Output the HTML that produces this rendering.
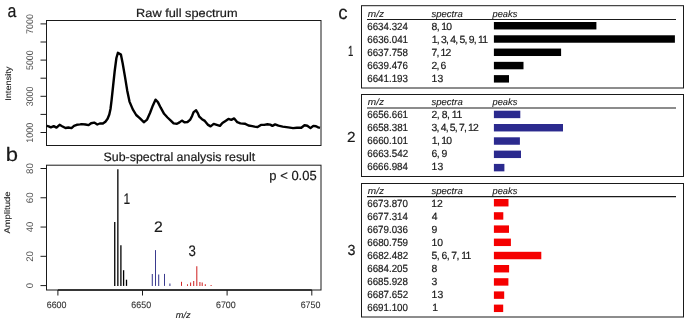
<!DOCTYPE html>
<html><head><meta charset="utf-8"><style>
html,body{margin:0;padding:0;background:#fff;}
body{width:685px;height:321px;overflow:hidden;}
svg{display:block;will-change:transform;font-family:"Liberation Sans", sans-serif;text-rendering:geometricPrecision;}
</style></head><body>
<svg width="685" height="321" viewBox="0 0 685 321">

<text id="t0" x="7.56" y="17.00" font-size="18.4" textLength="8.86" lengthAdjust="spacingAndGlyphs" fill="#1a1a1a" stroke="#1a1a1a" stroke-width="0.2" stroke-linejoin="round" >a</text>
<text id="t1" x="5.77" y="160.60" font-size="19.4" textLength="12.24" lengthAdjust="spacingAndGlyphs" fill="#1a1a1a" stroke="#1a1a1a" stroke-width="0.2" stroke-linejoin="round" >b</text>
<text id="t2" x="338.26" y="18.60" font-size="19.2" textLength="9.31" lengthAdjust="spacingAndGlyphs" fill="#1a1a1a" stroke="#1a1a1a" stroke-width="0.2" stroke-linejoin="round" >c</text>
<text id="t3" x="136.08" y="16.90" font-size="11.7" textLength="101.51" lengthAdjust="spacingAndGlyphs" fill="#1a1a1a" stroke="#1a1a1a" stroke-width="0.2" stroke-linejoin="round" >Raw full spectrum</text>
<rect x="46.5" y="20.5" width="274.5" height="125" fill="none" stroke="#1a1a1a" stroke-width="1"/>
<line x1="40.5" y1="23.9" x2="46.5" y2="23.9" stroke="#1a1a1a" stroke-width="1" />
<line x1="40.5" y1="42.0" x2="46.5" y2="42.0" stroke="#1a1a1a" stroke-width="1" />
<line x1="40.5" y1="60.1" x2="46.5" y2="60.1" stroke="#1a1a1a" stroke-width="1" />
<line x1="40.5" y1="78.2" x2="46.5" y2="78.2" stroke="#1a1a1a" stroke-width="1" />
<line x1="40.5" y1="96.3" x2="46.5" y2="96.3" stroke="#1a1a1a" stroke-width="1" />
<line x1="40.5" y1="114.4" x2="46.5" y2="114.4" stroke="#1a1a1a" stroke-width="1" />
<line x1="40.5" y1="132.5" x2="46.5" y2="132.5" stroke="#1a1a1a" stroke-width="1" />
<line x1="46.5" y1="23.9" x2="46.5" y2="132.5" stroke="#1a1a1a" stroke-width="1" />
<text id="t4" transform="translate(33.10,33.50) rotate(-90)" x="-0.45" y="0" font-size="9.6" textLength="19.86" lengthAdjust="spacingAndGlyphs" fill="#555" stroke="#555" stroke-width="0" stroke-linejoin="round" >7000</text>
<text id="t5" transform="translate(33.10,69.70) rotate(-90)" x="-0.36" y="0" font-size="9.6" textLength="19.76" lengthAdjust="spacingAndGlyphs" fill="#555" stroke="#555" stroke-width="0" stroke-linejoin="round" >5000</text>
<text id="t6" transform="translate(33.10,105.90) rotate(-90)" x="-0.36" y="0" font-size="9.6" textLength="19.76" lengthAdjust="spacingAndGlyphs" fill="#555" stroke="#555" stroke-width="0" stroke-linejoin="round" >3000</text>
<text id="t7" transform="translate(33.10,142.10) rotate(-90)" x="-0.68" y="0" font-size="9.6" textLength="20.09" lengthAdjust="spacingAndGlyphs" fill="#555" stroke="#555" stroke-width="0" stroke-linejoin="round" >1000</text>
<text id="t8" transform="translate(10.50,100.00) rotate(-90)" x="-0.83" y="0" font-size="8.2" textLength="34.22" lengthAdjust="spacingAndGlyphs" fill="#222" stroke="#222" stroke-width="0.12" stroke-linejoin="round" >Intensity</text>
<polyline points="46.9,125.9 48.7,126.3 50.9,127.3 53.7,126.1 56.5,127.6 59.6,124.8 62.1,126.2 65.5,128 68.4,127.5 71.5,128.1 74,125.9 76.8,124.8 80,124.4 81.7,124.1 85.5,124.5 88.6,125.1 91.1,123.2 94.2,122.6 97.3,124.5 99.8,123.5 102.9,123.5 105.4,121.7 107.6,118.8 109.3,114.5 110.5,109 111.6,100 113.1,86 114.7,71 116.4,58 117.9,52.8 120.9,54.6 122.7,63.5 125,76.9 127.2,90.4 129.5,101.6 132.8,109.4 136.2,115 140,118.4 143.8,122.2 147.1,119.6 150.1,112.7 152.9,105.4 155.5,99.7 157.9,102.1 160.7,107.7 164.1,113.8 167.5,117.5 170.8,120.6 173.6,123.4 177,123.7 179.5,122.4 181.9,120.6 184.7,122.4 187.5,122 190.3,119.6 192.1,115.9 193.6,112.1 196.1,110.3 197.8,113.1 199.3,116.7 202,119.2 204.8,120.9 208.1,124.9 210.6,126.4 213.7,123.9 216.8,124.9 219.9,125.9 222.4,123 225.5,120.9 228.4,118.9 231.3,119.9 234.2,118.4 237.3,122.2 240.4,123.4 244.8,123.7 248.5,125.5 252.3,126.1 254.4,126.6 257.6,127 260.9,124.9 264.2,124.9 267.5,124.3 270.2,124.6 272.4,125.9 275.1,124.4 278.4,125.7 282.7,126.6 288.2,127.4 293.1,128.1 296.9,127.7 301.3,127.7 304.5,125.2 307.3,125.7 310.5,128.1 313.3,125.9 316,126.3 318.2,127.4 320,127.9" fill="none" stroke="#000" stroke-width="2.4" stroke-linejoin="round" stroke-linecap="butt"/>
<text id="t9" x="103.54" y="161.10" font-size="12.2" textLength="151.66" lengthAdjust="spacingAndGlyphs" fill="#1a1a1a" stroke="#1a1a1a" stroke-width="0.2" stroke-linejoin="round" >Sub-spectral analysis result</text>
<rect x="46.5" y="165.2" width="274.5" height="124.8" fill="none" stroke="#1a1a1a" stroke-width="1"/>
<line x1="40.5" y1="285.6" x2="46.5" y2="285.6" stroke="#1a1a1a" stroke-width="1" />
<text id="t10" transform="translate(33.00,287.90) rotate(-90)" x="-0.38" y="0" font-size="9.6" textLength="5.33" lengthAdjust="spacingAndGlyphs" fill="#555" stroke="#555" stroke-width="0" stroke-linejoin="round" >0</text>
<line x1="40.5" y1="256.32500000000005" x2="46.5" y2="256.32500000000005" stroke="#1a1a1a" stroke-width="1" />
<text id="t11" transform="translate(33.00,261.33) rotate(-90)" x="-0.49" y="0" font-size="9.6" textLength="10.85" lengthAdjust="spacingAndGlyphs" fill="#555" stroke="#555" stroke-width="0" stroke-linejoin="round" >20</text>
<line x1="40.5" y1="227.05" x2="46.5" y2="227.05" stroke="#1a1a1a" stroke-width="1" />
<text id="t12" transform="translate(33.00,232.05) rotate(-90)" x="-0.19" y="0" font-size="9.6" textLength="10.54" lengthAdjust="spacingAndGlyphs" fill="#555" stroke="#555" stroke-width="0" stroke-linejoin="round" >40</text>
<line x1="40.5" y1="197.775" x2="46.5" y2="197.775" stroke="#1a1a1a" stroke-width="1" />
<text id="t13" transform="translate(33.00,202.78) rotate(-90)" x="-0.49" y="0" font-size="9.6" textLength="10.85" lengthAdjust="spacingAndGlyphs" fill="#555" stroke="#555" stroke-width="0" stroke-linejoin="round" >60</text>
<line x1="40.5" y1="168.5" x2="46.5" y2="168.5" stroke="#1a1a1a" stroke-width="1" />
<text id="t14" transform="translate(33.00,173.50) rotate(-90)" x="-0.44" y="0" font-size="9.6" textLength="10.80" lengthAdjust="spacingAndGlyphs" fill="#555" stroke="#555" stroke-width="0" stroke-linejoin="round" >80</text>
<line x1="46.5" y1="168.5" x2="46.5" y2="285.6" stroke="#1a1a1a" stroke-width="1" />
<text id="t15" transform="translate(10.00,233.60) rotate(-90)" x="-0.00" y="0" font-size="8.2" textLength="42.14" lengthAdjust="spacingAndGlyphs" fill="#222" stroke="#222" stroke-width="0.12" stroke-linejoin="round" >Amplitude</text>
<line x1="57.9" y1="290" x2="57.9" y2="295.5" stroke="#1a1a1a" stroke-width="1" />
<text id="t16" x="46.76" y="307.80" font-size="9.4" textLength="19.75" lengthAdjust="spacingAndGlyphs" fill="#333" stroke="#333" stroke-width="0.12" stroke-linejoin="round" >6600</text>
<line x1="142.5" y1="290" x2="142.5" y2="295.5" stroke="#1a1a1a" stroke-width="1" />
<text id="t17" x="131.36" y="307.80" font-size="9.4" textLength="19.75" lengthAdjust="spacingAndGlyphs" fill="#333" stroke="#333" stroke-width="0.12" stroke-linejoin="round" >6650</text>
<line x1="227.1" y1="290" x2="227.1" y2="295.5" stroke="#1a1a1a" stroke-width="1" />
<text id="t18" x="215.96" y="307.80" font-size="9.4" textLength="19.75" lengthAdjust="spacingAndGlyphs" fill="#333" stroke="#333" stroke-width="0.12" stroke-linejoin="round" >6700</text>
<line x1="311.8" y1="290" x2="311.8" y2="295.5" stroke="#1a1a1a" stroke-width="1" />
<text id="t19" x="300.66" y="307.80" font-size="9.4" textLength="19.75" lengthAdjust="spacingAndGlyphs" fill="#333" stroke="#333" stroke-width="0.12" stroke-linejoin="round" >6750</text>
<line x1="57.9" y1="290" x2="311.8" y2="290" stroke="#1a1a1a" stroke-width="1.4" />
<text id="t20" x="175.66" y="318.00" font-size="9.0" font-style="italic" textLength="14.99" lengthAdjust="spacingAndGlyphs" fill="#222" stroke="#222" stroke-width="0.12" stroke-linejoin="round" >m/z</text>
<text id="t21" x="269.36" y="179.50" font-size="13.2" textLength="47.29" lengthAdjust="spacingAndGlyphs" fill="#1a1a1a" stroke="#1a1a1a" stroke-width="0.2" stroke-linejoin="round" >p &lt; 0.05</text>
<line x1="114.75" y1="221.9" x2="114.75" y2="285.9" stroke="#000" stroke-width="1.3" />
<line x1="117.85" y1="169.3" x2="117.85" y2="285.9" stroke="#000" stroke-width="1.3" />
<line x1="120.9" y1="245.2" x2="120.9" y2="285.9" stroke="#000" stroke-width="1.3" />
<line x1="123.6" y1="270.2" x2="123.6" y2="285.9" stroke="#000" stroke-width="1.3" />
<line x1="126.5" y1="279.7" x2="126.5" y2="285.9" stroke="#000" stroke-width="1.3" />
<line x1="152.3" y1="273.9" x2="152.3" y2="285.9" stroke="#3a3a8e" stroke-width="1.05" />
<line x1="155.5" y1="250.1" x2="155.5" y2="285.9" stroke="#3a3a8e" stroke-width="1.05" />
<line x1="158.7" y1="274.6" x2="158.7" y2="285.9" stroke="#3a3a8e" stroke-width="1.05" />
<line x1="164.5" y1="273.9" x2="164.5" y2="285.9" stroke="#3a3a8e" stroke-width="1.05" />
<line x1="169.9" y1="283.6" x2="169.9" y2="285.9" stroke="#3a3a8e" stroke-width="1.05" />
<line x1="181.5" y1="281.8" x2="181.5" y2="285.9" stroke="#d02828" stroke-width="1.05" />
<line x1="187.5" y1="284.3" x2="187.5" y2="285.9" stroke="#d02828" stroke-width="1.05" />
<line x1="190.6" y1="282.6" x2="190.6" y2="285.9" stroke="#d02828" stroke-width="1.05" />
<line x1="193.7" y1="280.9" x2="193.7" y2="285.9" stroke="#d02828" stroke-width="1.05" />
<line x1="196.8" y1="266.2" x2="196.8" y2="285.9" stroke="#d02828" stroke-width="1.05" />
<line x1="199.9" y1="282.1" x2="199.9" y2="285.9" stroke="#d02828" stroke-width="1.05" />
<line x1="202.2" y1="282.6" x2="202.2" y2="285.9" stroke="#d02828" stroke-width="1.05" />
<line x1="205.3" y1="284.3" x2="205.3" y2="285.9" stroke="#d02828" stroke-width="1.05" />
<line x1="211.1" y1="284.9" x2="211.1" y2="285.9" stroke="#d02828" stroke-width="1.05" />
<text id="t22" x="123.40" y="203.70" font-size="15.2" textLength="6.65" lengthAdjust="spacingAndGlyphs" fill="#1a1a1a" stroke="#1a1a1a" stroke-width="0.2" stroke-linejoin="round" >1</text>
<text id="t23" x="154.01" y="232.00" font-size="15.2" textLength="8.80" lengthAdjust="spacingAndGlyphs" fill="#1a1a1a" stroke="#1a1a1a" stroke-width="0.2" stroke-linejoin="round" >2</text>
<text id="t24" x="188.57" y="255.60" font-size="15.2" textLength="7.38" lengthAdjust="spacingAndGlyphs" fill="#1a1a1a" stroke="#1a1a1a" stroke-width="0.2" stroke-linejoin="round" >3</text>
<rect x="361.5" y="5.7" width="322" height="82.30" fill="none" stroke="#1a1a1a" stroke-width="1"/>
<text id="t25" x="367.85" y="16.80" font-size="9.4" font-style="italic" textLength="16.21" lengthAdjust="spacingAndGlyphs" fill="#222" stroke="#222" stroke-width="0.12" stroke-linejoin="round" >m/z</text>
<text id="t26" x="431.45" y="16.80" font-size="9.4" font-style="italic" textLength="31.28" lengthAdjust="spacingAndGlyphs" fill="#222" stroke="#222" stroke-width="0.12" stroke-linejoin="round" >spectra</text>
<text id="t27" x="492.53" y="16.80" font-size="9.4" font-style="italic" textLength="24.84" lengthAdjust="spacingAndGlyphs" fill="#222" stroke="#222" stroke-width="0.12" stroke-linejoin="round" >peaks</text>
<line x1="367" y1="19.5" x2="676" y2="19.5" stroke="#1a1a1a" stroke-width="1.1" />
<text id="t28" x="347.98" y="55.70" font-size="14.6" textLength="5.37" lengthAdjust="spacingAndGlyphs" fill="#1a1a1a" stroke="#1a1a1a" stroke-width="0.2" stroke-linejoin="round" >1</text>
<text id="t29" x="367.26" y="29.70" font-size="10.4" textLength="40.64" lengthAdjust="spacingAndGlyphs" fill="#1a1a1a" stroke="#1a1a1a" stroke-width="0.2" stroke-linejoin="round" >6634.324</text>
<text id="t30" x="431.53" y="29.70" font-size="10.4" textLength="20.62" lengthAdjust="spacing" fill="#1a1a1a" stroke="#1a1a1a" stroke-width="0.2" stroke-linejoin="round" >8, 10</text>
<rect x="493.90" y="22.00" width="102.50" height="7.45" fill="#000"/>
<text id="t31" x="367.26" y="42.70" font-size="10.4" textLength="40.79" lengthAdjust="spacingAndGlyphs" fill="#1a1a1a" stroke="#1a1a1a" stroke-width="0.2" stroke-linejoin="round" >6636.041</text>
<text id="t32" x="431.82" y="42.70" font-size="10.4" textLength="56.14" lengthAdjust="spacing" fill="#1a1a1a" stroke="#1a1a1a" stroke-width="0.2" stroke-linejoin="round" >1, 3, 4, 5, 9, 11</text>
<rect x="493.90" y="35.28" width="181.00" height="7.45" fill="#000"/>
<text id="t33" x="367.26" y="55.70" font-size="10.4" textLength="40.74" lengthAdjust="spacingAndGlyphs" fill="#1a1a1a" stroke="#1a1a1a" stroke-width="0.2" stroke-linejoin="round" >6637.758</text>
<text id="t34" x="431.48" y="55.70" font-size="10.4" textLength="19.76" lengthAdjust="spacing" fill="#1a1a1a" stroke="#1a1a1a" stroke-width="0.2" stroke-linejoin="round" >7, 12</text>
<rect x="493.90" y="48.56" width="67.20" height="7.45" fill="#000"/>
<text id="t35" x="367.26" y="68.70" font-size="10.4" textLength="40.74" lengthAdjust="spacingAndGlyphs" fill="#1a1a1a" stroke="#1a1a1a" stroke-width="0.2" stroke-linejoin="round" >6639.476</text>
<text id="t36" x="431.48" y="68.70" font-size="10.4" textLength="14.71" lengthAdjust="spacing" fill="#1a1a1a" stroke="#1a1a1a" stroke-width="0.2" stroke-linejoin="round" >2, 6</text>
<rect x="493.90" y="61.84" width="29.60" height="7.45" fill="#000"/>
<text id="t37" x="367.26" y="81.70" font-size="10.4" textLength="40.74" lengthAdjust="spacingAndGlyphs" fill="#1a1a1a" stroke="#1a1a1a" stroke-width="0.2" stroke-linejoin="round" >6641.193</text>
<text id="t38" x="431.62" y="81.70" font-size="10.4" fill="#1a1a1a" stroke="#1a1a1a" stroke-width="0.2" stroke-linejoin="round" >13</text>
<rect x="493.90" y="75.12" width="15.10" height="7.45" fill="#000"/>
<rect x="361.5" y="94.5" width="322" height="82.00" fill="none" stroke="#1a1a1a" stroke-width="1"/>
<text id="t39" x="367.85" y="104.75" font-size="9.4" font-style="italic" textLength="16.21" lengthAdjust="spacingAndGlyphs" fill="#222" stroke="#222" stroke-width="0.12" stroke-linejoin="round" >m/z</text>
<text id="t40" x="431.45" y="104.75" font-size="9.4" font-style="italic" textLength="31.28" lengthAdjust="spacingAndGlyphs" fill="#222" stroke="#222" stroke-width="0.12" stroke-linejoin="round" >spectra</text>
<text id="t41" x="492.53" y="104.75" font-size="9.4" font-style="italic" textLength="24.84" lengthAdjust="spacingAndGlyphs" fill="#222" stroke="#222" stroke-width="0.12" stroke-linejoin="round" >peaks</text>
<line x1="367" y1="108.0" x2="676" y2="108.0" stroke="#1a1a1a" stroke-width="1.1" />
<text id="t42" x="347.03" y="142.40" font-size="14.6" textLength="8.56" lengthAdjust="spacingAndGlyphs" fill="#1a1a1a" stroke="#1a1a1a" stroke-width="0.2" stroke-linejoin="round" >2</text>
<text id="t43" x="367.26" y="118.45" font-size="10.4" textLength="40.79" lengthAdjust="spacingAndGlyphs" fill="#1a1a1a" stroke="#1a1a1a" stroke-width="0.2" stroke-linejoin="round" >6656.661</text>
<text id="t44" x="431.48" y="118.45" font-size="10.4" textLength="30.70" lengthAdjust="spacing" fill="#1a1a1a" stroke="#1a1a1a" stroke-width="0.2" stroke-linejoin="round" >2, 8, 11</text>
<rect x="493.90" y="110.70" width="26.40" height="7.45" fill="#2b2a8e"/>
<text id="t45" x="367.26" y="131.45" font-size="10.4" textLength="40.79" lengthAdjust="spacingAndGlyphs" fill="#1a1a1a" stroke="#1a1a1a" stroke-width="0.2" stroke-linejoin="round" >6658.381</text>
<text id="t46" x="431.58" y="131.45" font-size="10.4" textLength="47.28" lengthAdjust="spacing" fill="#1a1a1a" stroke="#1a1a1a" stroke-width="0.2" stroke-linejoin="round" >3, 4, 5, 7, 12</text>
<rect x="493.90" y="124.00" width="69.10" height="7.45" fill="#2b2a8e"/>
<text id="t47" x="367.26" y="144.45" font-size="10.4" textLength="40.79" lengthAdjust="spacingAndGlyphs" fill="#1a1a1a" stroke="#1a1a1a" stroke-width="0.2" stroke-linejoin="round" >6660.101</text>
<text id="t48" x="431.82" y="144.45" font-size="10.4" textLength="20.26" lengthAdjust="spacing" fill="#1a1a1a" stroke="#1a1a1a" stroke-width="0.2" stroke-linejoin="round" >1, 10</text>
<rect x="493.90" y="137.30" width="26.00" height="7.45" fill="#2b2a8e"/>
<text id="t49" x="367.26" y="157.45" font-size="10.4" textLength="40.84" lengthAdjust="spacingAndGlyphs" fill="#1a1a1a" stroke="#1a1a1a" stroke-width="0.2" stroke-linejoin="round" >6663.542</text>
<text id="t50" x="431.48" y="157.45" font-size="10.4" textLength="15.84" lengthAdjust="spacing" fill="#1a1a1a" stroke="#1a1a1a" stroke-width="0.2" stroke-linejoin="round" >6, 9</text>
<rect x="493.90" y="150.60" width="27.10" height="7.45" fill="#2b2a8e"/>
<text id="t51" x="367.26" y="170.45" font-size="10.4" textLength="40.64" lengthAdjust="spacingAndGlyphs" fill="#1a1a1a" stroke="#1a1a1a" stroke-width="0.2" stroke-linejoin="round" >6666.984</text>
<text id="t52" x="431.62" y="170.45" font-size="10.4" fill="#1a1a1a" stroke="#1a1a1a" stroke-width="0.2" stroke-linejoin="round" >13</text>
<rect x="493.90" y="163.90" width="10.50" height="7.45" fill="#2b2a8e"/>
<rect x="361.5" y="183.5" width="322" height="133.50" fill="none" stroke="#1a1a1a" stroke-width="1"/>
<text id="t53" x="367.85" y="193.60" font-size="9.4" font-style="italic" textLength="16.21" lengthAdjust="spacingAndGlyphs" fill="#222" stroke="#222" stroke-width="0.12" stroke-linejoin="round" >m/z</text>
<text id="t54" x="431.45" y="193.60" font-size="9.4" font-style="italic" textLength="31.28" lengthAdjust="spacingAndGlyphs" fill="#222" stroke="#222" stroke-width="0.12" stroke-linejoin="round" >spectra</text>
<text id="t55" x="492.53" y="193.60" font-size="9.4" font-style="italic" textLength="24.84" lengthAdjust="spacingAndGlyphs" fill="#222" stroke="#222" stroke-width="0.12" stroke-linejoin="round" >peaks</text>
<line x1="367" y1="196.6" x2="676" y2="196.6" stroke="#1a1a1a" stroke-width="1.1" />
<text id="t56" x="347.43" y="255.00" font-size="14.6" textLength="7.96" lengthAdjust="spacingAndGlyphs" fill="#1a1a1a" stroke="#1a1a1a" stroke-width="0.2" stroke-linejoin="round" >3</text>
<text id="t57" x="367.26" y="206.95" font-size="10.4" textLength="40.69" lengthAdjust="spacingAndGlyphs" fill="#1a1a1a" stroke="#1a1a1a" stroke-width="0.2" stroke-linejoin="round" >6673.870</text>
<text id="t58" x="431.32" y="206.95" font-size="10.4" fill="#1a1a1a" stroke="#1a1a1a" stroke-width="0.2" stroke-linejoin="round" >12</text>
<rect x="493.90" y="199.00" width="14.60" height="7.45" fill="#f50000"/>
<text id="t59" x="367.26" y="219.95" font-size="10.4" textLength="40.64" lengthAdjust="spacingAndGlyphs" fill="#1a1a1a" stroke="#1a1a1a" stroke-width="0.2" stroke-linejoin="round" >6677.314</text>
<text id="t60" x="431.79" y="219.95" font-size="10.4" fill="#1a1a1a" stroke="#1a1a1a" stroke-width="0.2" stroke-linejoin="round" >4</text>
<rect x="493.90" y="212.20" width="9.40" height="7.45" fill="#f50000"/>
<text id="t61" x="367.26" y="232.95" font-size="10.4" textLength="40.74" lengthAdjust="spacingAndGlyphs" fill="#1a1a1a" stroke="#1a1a1a" stroke-width="0.2" stroke-linejoin="round" >6679.036</text>
<text id="t62" x="431.53" y="232.95" font-size="10.4" fill="#1a1a1a" stroke="#1a1a1a" stroke-width="0.2" stroke-linejoin="round" >9</text>
<rect x="493.90" y="225.40" width="15.10" height="7.45" fill="#f50000"/>
<text id="t63" x="367.26" y="245.95" font-size="10.4" textLength="40.79" lengthAdjust="spacingAndGlyphs" fill="#1a1a1a" stroke="#1a1a1a" stroke-width="0.2" stroke-linejoin="round" >6680.759</text>
<text id="t64" x="431.52" y="245.95" font-size="10.4" fill="#1a1a1a" stroke="#1a1a1a" stroke-width="0.2" stroke-linejoin="round" >10</text>
<rect x="493.90" y="238.60" width="17.00" height="7.45" fill="#f50000"/>
<text id="t65" x="367.26" y="258.95" font-size="10.4" textLength="40.84" lengthAdjust="spacingAndGlyphs" fill="#1a1a1a" stroke="#1a1a1a" stroke-width="0.2" stroke-linejoin="round" >6682.482</text>
<text id="t66" x="431.58" y="258.95" font-size="10.4" textLength="39.80" lengthAdjust="spacing" fill="#1a1a1a" stroke="#1a1a1a" stroke-width="0.2" stroke-linejoin="round" >5, 6, 7, 11</text>
<rect x="493.90" y="251.80" width="47.40" height="7.45" fill="#f50000"/>
<text id="t67" x="367.26" y="271.95" font-size="10.4" textLength="40.74" lengthAdjust="spacingAndGlyphs" fill="#1a1a1a" stroke="#1a1a1a" stroke-width="0.2" stroke-linejoin="round" >6684.205</text>
<text id="t68" x="431.53" y="271.95" font-size="10.4" fill="#1a1a1a" stroke="#1a1a1a" stroke-width="0.2" stroke-linejoin="round" >8</text>
<rect x="493.90" y="265.00" width="15.20" height="7.45" fill="#f50000"/>
<text id="t69" x="367.26" y="284.95" font-size="10.4" textLength="40.74" lengthAdjust="spacingAndGlyphs" fill="#1a1a1a" stroke="#1a1a1a" stroke-width="0.2" stroke-linejoin="round" >6685.928</text>
<text id="t70" x="431.58" y="284.95" font-size="10.4" fill="#1a1a1a" stroke="#1a1a1a" stroke-width="0.2" stroke-linejoin="round" >3</text>
<rect x="493.90" y="278.20" width="14.50" height="7.45" fill="#f50000"/>
<text id="t71" x="367.26" y="297.95" font-size="10.4" textLength="40.84" lengthAdjust="spacingAndGlyphs" fill="#1a1a1a" stroke="#1a1a1a" stroke-width="0.2" stroke-linejoin="round" >6687.652</text>
<text id="t72" x="431.62" y="297.95" font-size="10.4" fill="#1a1a1a" stroke="#1a1a1a" stroke-width="0.2" stroke-linejoin="round" >13</text>
<rect x="493.90" y="291.40" width="10.30" height="7.45" fill="#f50000"/>
<text id="t73" x="367.26" y="310.95" font-size="10.4" textLength="40.69" lengthAdjust="spacingAndGlyphs" fill="#1a1a1a" stroke="#1a1a1a" stroke-width="0.2" stroke-linejoin="round" >6691.100</text>
<text id="t74" x="432.22" y="310.95" font-size="10.4" fill="#1a1a1a" stroke="#1a1a1a" stroke-width="0.2" stroke-linejoin="round" >1</text>
<rect x="493.90" y="304.60" width="9.30" height="7.45" fill="#f50000"/>
</svg>
</body></html>
